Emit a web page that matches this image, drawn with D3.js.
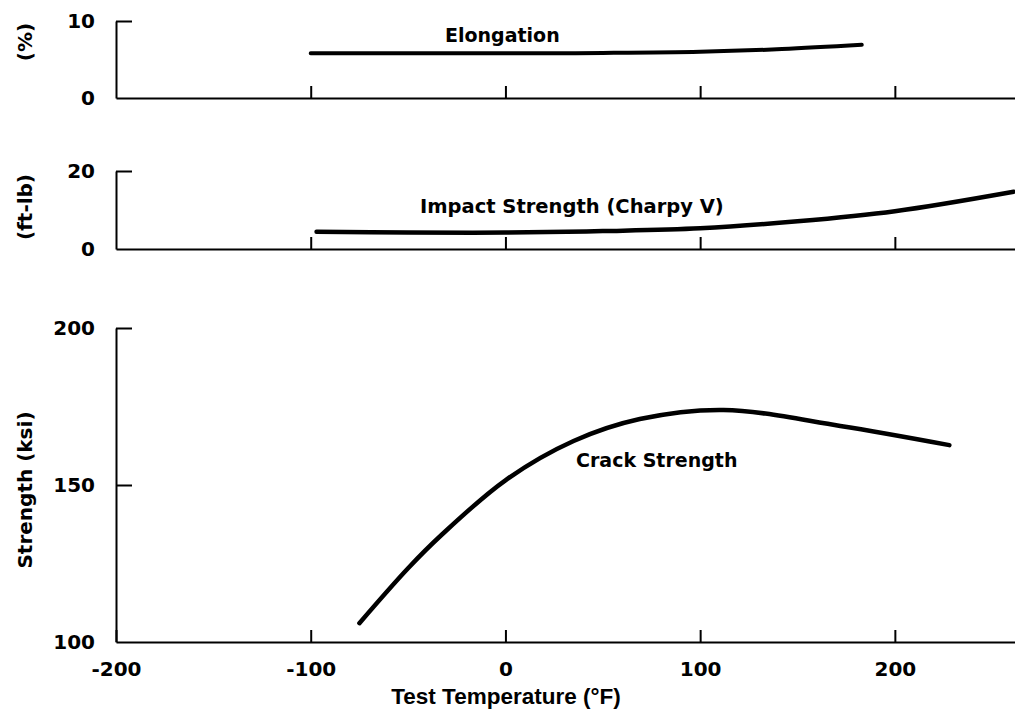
<!DOCTYPE html>
<html>
<head>
<meta charset="utf-8">
<script src="https://cdn.jsdelivr.net/npm/d3@7"></script>
<style>
  body { margin: 0; background: #fff; }
  text { font-family: "DejaVu Sans", sans-serif; font-weight: bold; fill: #000; }
</style>
</head>
<body>
<div id="chart"></div>
<script>
// values
const tempTicks = [-200, -100, 0, 100, 200];
const innerTempTicks = [-100, 0, 100, 200];

const elongTemp = [-100, -50, 0, 50, 100, 142, 183];
const elongPct = [5.8, 5.8, 5.8, 5.85, 6.0, 6.35, 6.9];

const impactTemp = [-97, -50, 0, 50, 100, 150, 200, 261];
const impactFtLb = [4.4, 4.2, 4.2, 4.6, 5.3, 7.1, 9.7, 14.7];

const crackTemp = [-75, -50, -33, 0, 35, 69, 112, 172, 228];
const crackKsi = [106, 123.5, 134, 151.5, 164, 171, 173.9, 168.8, 162.7];

const elongTicks = [10];
const impactTicks = [0, 20];
const strengthTicks = [100, 150, 200];

const width = 1015, height = 717;

const svg = d3.select("#chart")
    .append("svg")
    .attr("width", width)
    .attr("height", height);

// shared temperature scale
const x = d3.scaleLinear().domain([-200, 261.7]).range([116, 1015]);

// one y scale per panel
const yElong = d3.scaleLinear().domain([0, 10]).range([98, 21]);
const yImpact = d3.scaleLinear().domain([0, 20]).range([249, 171]);
const yStrength = d3.scaleLinear().domain([100, 200]).range([642, 328]);

function drawPanel(y, yTicks, showXLabels) {
    const g = svg.append("g");

    const xAxis = d3.axisBottom(x)
        .tickValues(showXLabels ? tempTicks : innerTempTicks)
        .tickSize(-12)
        .tickSizeOuter(0)
        .tickPadding(20)
        .tickFormat(d => showXLabels ? (d < 0 ? "-" + Math.abs(d) : String(d)) : "");
    g.append("g")
        .attr("transform", `translate(0,${y.range()[0]})`)
        .call(xAxis)
        .call(a => a.selectAll("text").style("font-size", "20px"));

    const yAxis = d3.axisLeft(y)
        .tickValues([y.domain()[0]].concat(yTicks.filter(t => t !== y.domain()[0])))
        .tickSize(-16)
        .tickSizeOuter(0)
        .tickPadding(21)
        .tickFormat(d3.format("d"));
    const yg = g.append("g")
        .attr("transform", `translate(${x(-200)},0)`)
        .call(yAxis)
        .call(a => a.selectAll("text").style("font-size", "20px"));
    // no inward tick where the axes meet
    yg.selectAll(".tick").filter(d => d === y.domain()[0])
        .select("line").remove();

    g.selectAll(".domain, .tick line")
        .attr("stroke", "#000")
        .attr("stroke-width", 2);
    return g;
}

function drawCurve(xs, ys, y, w) {
    const line = d3.line()
        .x(d => x(d[0]))
        .y(d => y(d[1]))
        .curve(d3.curveCatmullRom.alpha(0.5));
    svg.append("path")
        .datum(xs.map((t, i) => [t, ys[i]]))
        .attr("d", line)
        .attr("fill", "none")
        .attr("stroke", "#000")
        .attr("stroke-width", w)
        .attr("stroke-linecap", "round");
}

drawPanel(yElong, elongTicks, false);
drawPanel(yImpact, impactTicks, false);
drawPanel(yStrength, strengthTicks, true);

drawCurve(elongTemp, elongPct, yElong, 4);
drawCurve(impactTemp, impactFtLb, yImpact, 4.5);
drawCurve(crackTemp, crackKsi, yStrength, 4.5);

// curve labels
svg.append("text").attr("x", 445).attr("y", 42).style("font-size", "19px").text("Elongation");
svg.append("text").attr("x", 420).attr("y", 213).style("font-size", "19.5px").text("Impact Strength (Charpy V)");
svg.append("text").attr("x", 576).attr("y", 467).style("font-size", "19px").text("Crack Strength");

// axis titles
function yTitle(label, cy) {
    svg.append("text")
        .attr("transform", `translate(25,${cy}) rotate(-90)`)
        .attr("text-anchor", "middle")
        .attr("dy", "0.36em")
        .style("font-size", "20px")
        .text(label);
}
yTitle("(%)", 42);
yTitle("(ft-lb)", 207);
yTitle("Strength (ksi)", 490);

svg.append("text")
    .attr("x", 506)
    .attr("y", 704)
    .attr("text-anchor", "middle")
    .style("font-size", "22.5px")
    .style("font-family", "'Liberation Sans', Arial, sans-serif")
    .text("Test Temperature (\u00b0F)");
</script>
</body>
</html>
